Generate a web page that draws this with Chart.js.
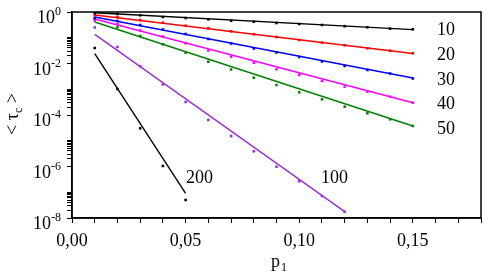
<!DOCTYPE html>
<html>
<head>
<meta charset="utf-8">
<script src="https://cdn.jsdelivr.net/npm/chart.js@4.4.1/dist/chart.umd.min.js"></script>
<style>
  html, body { margin: 0; padding: 0; background: #fff; }
  #wrap { width: 488px; height: 275px; }
</style>
</head>
<body>
<div id="wrap"><canvas id="chart" width="488" height="275"></canvas></div>
<script>
// p1 values where the points sit
const pValues = [0.01, 0.02, 0.03, 0.04, 0.05, 0.06, 0.07, 0.08, 0.09, 0.10, 0.11, 0.12, 0.13, 0.14, 0.15];
const p100 = [0.01, 0.02, 0.03, 0.04, 0.05, 0.06, 0.07, 0.08, 0.09, 0.10, 0.11, 0.12];
const p200 = [0.01, 0.02, 0.03, 0.04, 0.05];

// <tau_c>
const tau10 = [0.923, 0.836, 0.745, 0.640, 0.585, 0.521, 0.459, 0.420, 0.374, 0.342, 0.313, 0.281, 0.255, 0.225, 0.213];
const tau20 = [0.745, 0.623, 0.489, 0.384, 0.294, 0.233, 0.178, 0.136, 0.107, 0.0818, 0.0643, 0.0509, 0.0389, 0.0314, 0.0249];
const tau30 = [0.585, 0.447, 0.313, 0.209, 0.140, 0.0894, 0.0598, 0.0383, 0.0268, 0.0179, 0.0120, 0.0080, 0.0056, 0.0041, 0.00262];
const tau40 = [0.468, 0.342, 0.191, 0.112, 0.0609, 0.0320, 0.0184, 0.0107, 0.00595, 0.00358, 0.00209, 0.00126, 0.000803, 0.000514, 0.000301];
const tau50 = [0.511, 0.255, 0.117, 0.0557, 0.0263, 0.0117, 0.00585, 0.00281, 0.00146, 0.00076, 0.000407, 0.00021, 0.000116, 0.000068, 0.0000374];
const tau100 = [0.250, 0.0437, 0.00785, 0.00153, 0.00032, 0.000064, 0.0000153, 0.00000389, 0.00000098, 0.000000266, 0.0000000715, 0.0000000176];
const tau200 = [0.040, 0.00102, 0.0000304, 0.00000105, 0.00000005];

// fitted straight lines (start, end) on the log axis
const fit10 = [0.93, 0.207];
const fit20 = [0.765, 0.0245];
const fit30 = [0.64, 0.00274];
const fit40 = [0.535, 0.0003];
const fit50 = [0.409, 0.0000374];
const fit100 = [0.136, 0.0000000176];
const fit200 = [0.024, 0.000000091];

const curveNames = ['10', '20', '30', '40', '50', '100', '200'];
const curveColors = ['#000000', '#ff0000', '#0000ff', '#ff00ff', '#008000', '#9a2ed6', '#000000'];

const yMajor = [1, 1e-2, 1e-4, 1e-6, 1e-8];
const yMinorSteps = [2, 3, 4, 5, 6, 7, 8, 9, 10];
const xLabelTicks = ['0,00', '0,05', '0,10', '0,15'];

const serif = '"Liberation Serif", "DejaVu Serif", serif';

const series = [
    { name: '10', p: pValues, tau: tau10, fit: fit10 },
    { name: '20', p: pValues, tau: tau20, fit: fit20 },
    { name: '30', p: pValues, tau: tau30, fit: fit30 },
    { name: '40', p: pValues, tau: tau40, fit: fit40 },
    { name: '50', p: pValues, tau: tau50, fit: fit50 },
    { name: '100', p: p100, tau: tau100, fit: fit100 },
    { name: '200', p: p200, tau: tau200, fit: fit200 }
];

const datasets = [];
series.forEach((s, i) => {
    const color = curveColors[i];
    datasets.push({
        label: s.name + ' fit',
        data: [{ x: s.p[0], y: s.fit[0] }, { x: s.p[s.p.length - 1], y: s.fit[1] }],
        showLine: true,
        borderColor: color,
        borderWidth: 1.4,
        pointRadius: 0,
        fill: false
    });
    datasets.push({
        label: s.name,
        data: s.p.map((p, k) => ({ x: p, y: s.tau[k] })),
        showLine: false,
        pointStyle: 'rect',
        pointRadius: 1.8,
        backgroundColor: color,
        borderColor: color,
        borderWidth: 0
    });
});

// y tick positions: majors every two decades, minors in the decade above each major
const yTickValues = [];
yMajor.forEach(m => {
    yTickValues.push(m);
    if (m < 1) yMinorSteps.forEach(k => yTickValues.push(k * m));
});

const overlay = {
    id: 'overlay',
    afterDraw(chart) {
        const ctx = chart.ctx;
        const a = chart.chartArea;
        const ys = chart.scales.y;
        ctx.save();

        // frame
        ctx.strokeStyle = '#000';
        ctx.lineWidth = 1.5;
        ctx.strokeRect(a.left, a.top, a.right - a.left, a.bottom - a.top);

        // y tick labels 10^n
        ctx.fillStyle = '#000';
        yMajor.forEach(v => {
            const py = ys.getPixelForValue(v);
            const exp = String(Math.round(Math.log10(v)));
            ctx.font = '12px ' + serif;
            const ew = ctx.measureText(exp).width;
            ctx.textAlign = 'right';
            ctx.textBaseline = 'alphabetic';
            ctx.fillText(exp, 61, py + 3);
            ctx.font = '18px ' + serif;
            ctx.fillText('10', 61 - ew, py + 11);
        });

        // x axis title p1
        ctx.textAlign = 'left';
        ctx.font = '18px ' + serif;
        ctx.fillText('p', 271, 267);
        ctx.font = '12px ' + serif;
        ctx.fillText('1', 281, 271);

        // y axis title < tau_c >
        ctx.save();
        ctx.translate(18, 114);
        ctx.rotate(-Math.PI / 2);
        ctx.font = '18px ' + serif;
        const t1 = '< \u03c4';
        const w1 = ctx.measureText(t1).width;
        ctx.font = '12px ' + serif;
        const w2 = ctx.measureText('c').width;
        ctx.font = '18px ' + serif;
        const t3 = ' >';
        const w3 = ctx.measureText(t3).width;
        let x0 = -(w1 + w2 + w3) / 2;
        ctx.fillText(t1, x0, 0);
        ctx.font = '12px ' + serif;
        ctx.fillText('c', x0 + w1, 4);
        ctx.font = '18px ' + serif;
        ctx.fillText(t3, x0 + w1 + w2, 0);
        ctx.restore();

        // curve labels
        ctx.font = '18px ' + serif;
        ctx.textAlign = 'left';
        const labelPos = [[437, 35], [437, 60], [437, 85], [437, 109], [437, 134], [321, 183], [186, 183]];
        curveNames.forEach((n, i) => ctx.fillText(n, labelPos[i][0], labelPos[i][1]));

        ctx.restore();
    }
};

new Chart(document.getElementById('chart'), {
    type: 'scatter',
    data: { datasets },
    options: {
        responsive: false,
        animation: false,
        layout: { padding: { top: 12, right: 3, left: 0, bottom: 0 } },
        plugins: { legend: { display: false }, tooltip: { enabled: false } },
        scales: {
            x: {
                type: 'linear',
                min: 0,
                max: 0.18,
                afterFit: s => { s.height = 57; },
                ticks: {
                    stepSize: 0.01,
                    autoSkip: false,
                    maxRotation: 0,
                    padding: 7,
                    color: '#000',
                    font: { family: serif, size: 18 },
                    callback: v => {
                        const k = Math.round(v * 100);
                        return k % 5 === 0 ? xLabelTicks[k / 5] : '';
                    }
                },
                grid: { drawOnChartArea: false, drawTicks: true, tickLength: 5, color: '#000' },
                border: { display: true, color: '#000', width: 1.5 }
            },
            y: {
                type: 'logarithmic',
                min: 1e-8,
                max: 1,
                afterFit: s => { s.width = 72; },
                afterBuildTicks: s => { s.ticks = yTickValues.map(v => ({ value: v })); },
                ticks: { display: false },
                grid: { drawOnChartArea: false, drawTicks: true, tickLength: 5, color: '#000' },
                border: { display: true, color: '#000', width: 1.5 }
            }
        }
    },
    plugins: [overlay]
});
</script>
</body>
</html>
